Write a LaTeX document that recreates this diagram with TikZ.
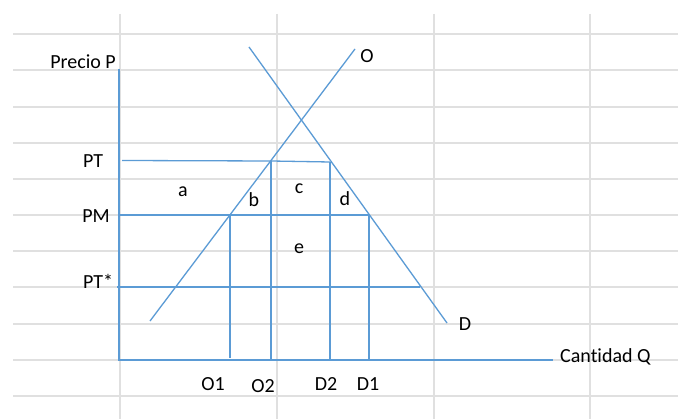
\documentclass[tikz,border=0pt]{standalone}
\usepackage{fontspec}
\setmainfont{Carlito}[Ligatures={NoCommon}]
\definecolor{lineblue}{HTML}{5B9BD5}
\definecolor{gridgrey}{HTML}{E0E0E0}
\begin{document}
\begin{tikzpicture}[x=1pt,y=-1pt,
  gridline/.style={draw=gridgrey,line width=1.2pt},
  curve/.style={draw=lineblue,line width=1.3pt},
  axisline/.style={draw=lineblue,line width=2pt},
  lbl/.style={font=\fontsize{20}{24}\selectfont,text=black,inner sep=0pt}]
\useasboundingbox (0,0) rectangle (678,419);
\fill[white] (0,0) rectangle (678,419);
% grid
\foreach \yy in {34,70,107,143,179,215,251,287,324,360,396}
  \draw[gridline] (13,\yy) -- (678,\yy);
\foreach \xx in {120,277,434,590}
  \draw[gridline] (\xx,14) -- (\xx,419);
% key points
\coordinate (orig) at (119,360.5);
\coordinate (ytop) at (119,69);
\coordinate (xend) at (553,360.5);
\coordinate (Os) at (150,321);
\coordinate (Oe) at (355,49);
\coordinate (Ds) at (249,47);
\coordinate (De) at (447,323);
\coordinate (ptl) at (122,160.5);
\coordinate (pto) at (271,161);
\coordinate (ptd) at (330,162);
\coordinate (pml) at (119,215);
\coordinate (pmo) at (230,215);
\coordinate (pmd) at (369,215);
\coordinate (psl) at (117,287);
\coordinate (psd) at (420,287);
% lines
\draw[curve] (Os) -- (Oe);
\draw[curve] (Ds) -- (De);
\draw[curve] (ptl) -- (pto) -- (ptd);
\draw[curve] (pml) -- (pmo) -- (pmd);
\draw[curve] (psl) -- (psd);
\draw[curve] (pto) -- (pto |- orig);
\draw[curve] (ptd) -- (ptd |- orig);
\draw[curve] (pmo) -- (230,358);
\draw[curve] (pmd) -- (pmd |- orig);
\draw[axisline] (ytop) -- (orig) -- (xend);
% labels
\node[lbl,anchor=east] (lp) at (116,62) {Precio P};
\node[lbl] (lpt) at (93,161) {PT};
\node[lbl] (lpm) at (96,216) {PM};
\node[lbl] (lps) at (98,281) {PT*};
\node[lbl] (la) at (183,192) {a};
\node[lbl] (lb) at (254,200) {b};
\node[lbl] (lc) at (299,189) {c};
\node[lbl] (ld) at (345,199) {d};
\node[lbl] (le) at (299,249) {e};
\node[lbl] (lO) at (367,56) {O};
\node[lbl] (lD) at (465,324) {D};
\node[lbl,anchor=west] (lq) at (560,357) {Cantidad Q};
\node[lbl] (lo1) at (213,384) {O1};
\node[lbl] (lo2) at (263,386) {O2};
\node[lbl] (ld2) at (326,384) {D2};
\node[lbl] (ld1) at (368,384) {D1};
\end{tikzpicture}
\end{document}
